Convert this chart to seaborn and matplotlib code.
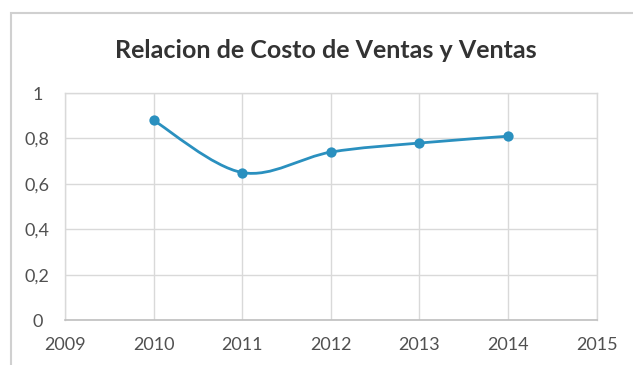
import numpy as np
import pandas as pd
import matplotlib
matplotlib.use("Agg")
import matplotlib.pyplot as plt
from matplotlib.path import Path
from matplotlib.patches import PathPatch, Rectangle
import seaborn as sns

# Ratio of cost of sales to sales, per year
years = [2010, 2011, 2012, 2013, 2014]
ratio = [0.88, 0.65, 0.74, 0.78, 0.81]
x_ticks = [2009, 2010, 2011, 2012, 2013, 2014, 2015]
y_ticks = [0, 0.2, 0.4, 0.6, 0.8, 1.0]
y_labels = ["0", "0,2", "0,4", "0,6", "0,8", "1"]
title = "Relacion de Costo de Ventas y Ventas"

df = pd.DataFrame({"anio": years, "relacion": ratio})

sns.set_theme(style="whitegrid")
plt.rcParams["font.family"] = ["Lato", "DejaVu Sans"]

LINE = "#2a90bf"
GRID = "#d9d9d9"
TEXT = "#505050"

fig = plt.figure(figsize=(6.33, 3.65), dpi=100)
fig.patch.set_facecolor("white")
ax = fig.add_axes([0.1027, 0.123, 0.840, 0.622])

# Smoothed connecting curve (Catmull-Rom expressed as cubic Bezier segments)
xs = np.asarray(df["anio"], dtype=float)
ys = np.asarray(df["relacion"], dtype=float)
px = np.concatenate([[xs[0]], xs, [xs[-1]]])
py = np.concatenate([[ys[0]], ys, [ys[-1]]])
verts = [(xs[0], ys[0])]
codes = [Path.MOVETO]
t = 1 / 6
for i in range(1, len(xs)):
    p0 = np.array([px[i - 1], py[i - 1]])
    p1 = np.array([px[i], py[i]])
    p2 = np.array([px[i + 1], py[i + 1]])
    p3 = np.array([px[i + 2], py[i + 2]])
    c1 = p1 + (p2 - p0) * t
    c2 = p2 - (p3 - p1) * t
    verts += [tuple(c1), tuple(c2), tuple(p2)]
    codes += [Path.CURVE4] * 3
ax.add_patch(PathPatch(Path(verts, codes), facecolor="none", edgecolor=LINE,
                       lw=2.0, zorder=3))

sns.scatterplot(data=df, x="anio", y="relacion", ax=ax, color=LINE, s=55,
                edgecolor=LINE, linewidth=0, zorder=4, legend=False)

ax.set_xlim(2009, 2015)
ax.set_ylim(0, 1)
ax.set_xticks(x_ticks)
ax.set_xticklabels([str(v) for v in x_ticks])
ax.set_yticks(y_ticks)
ax.set_yticklabels(y_labels)
ax.set_xlabel("")
ax.set_ylabel("")
ax.grid(True, color=GRID, lw=1.0)
ax.tick_params(axis="both", length=0, labelsize=13, labelcolor=TEXT)
ax.tick_params(axis="x", pad=12)
ax.tick_params(axis="y", pad=20)
for lab in ax.get_yticklabels():
    lab.set_horizontalalignment("center")
for side in ["top", "right", "left"]:
    ax.spines[side].set_visible(True)
    ax.spines[side].set_color(GRID)
    ax.spines[side].set_linewidth(1.0)
ax.spines["bottom"].set_color("#bfbfbf")
ax.spines["bottom"].set_linewidth(1.2)

fig.text(0.515, 0.862, title, ha="center", va="center", fontsize=18,
         fontweight="bold", color="#333333")

# Chart area frame
fig.patches.append(Rectangle((11 / 633, -0.05), 1.2, 1 - 13 / 365 + 0.05,
                             transform=fig.transFigure, fill=False,
                             edgecolor="#d0d0d0", lw=1.5))

fig.savefig("out.png", dpi=100)
